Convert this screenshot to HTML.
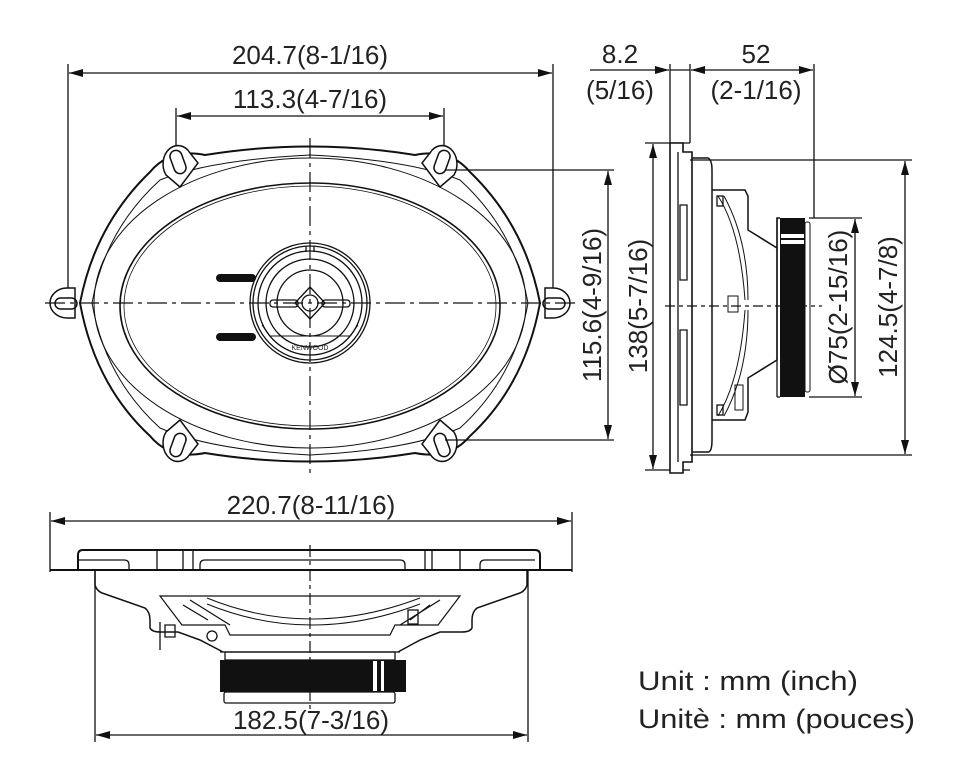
<!DOCTYPE html>
<html><head><meta charset="utf-8"><style>
html,body{margin:0;padding:0;background:#fff}
svg{display:block}
text{font-family:"Liberation Sans",sans-serif;fill:#222}
</style></head><body>
<svg width="958" height="784" viewBox="0 0 958 784" xmlns="http://www.w3.org/2000/svg">
<defs>
<marker id="a" markerWidth="14" markerHeight="8" refX="14" refY="4" orient="auto-start-reverse" markerUnits="userSpaceOnUse"><path d="M0,0 L14,4 L0,8z" fill="#111"/></marker>
</defs>
<g stroke="#111" fill="none" stroke-width="1.3">
<line x1="68" y1="64" x2="68" y2="312"/>
<line x1="553" y1="64" x2="553" y2="312"/>
<line x1="69" y1="73" x2="552" y2="73" marker-start="url(#a)" marker-end="url(#a)"/>
<line x1="176" y1="108" x2="176" y2="175"/>
<line x1="444" y1="108" x2="444" y2="175"/>
<line x1="177" y1="116" x2="443" y2="116" marker-start="url(#a)" marker-end="url(#a)"/>

<path d="M150,172 Q170,148 205,155 Q310,138 415,155 Q450,148 470,172 Q525,225 540,303 Q525,385 470,436 Q450,460 415,453 Q310,470 205,453 Q170,460 150,436 Q95,385 80,303 Q95,225 150,172Z" stroke-width="2"/>
<path d="M160,180 Q210,160 310,155 Q410,160 460,180 Q515,230 528,303 Q515,378 460,428 Q410,450 310,455 Q210,450 160,428 Q105,378 92,303 Q105,230 160,180Z" stroke-width="1"/>
<ellipse cx="310" cy="303" rx="216" ry="145" stroke-width="1"/>
<ellipse cx="310" cy="306" rx="190" ry="123" stroke-width="1.6"/>
<ellipse cx="310" cy="306" rx="186" ry="120" stroke-width="0.8"/>
<g stroke-width="1.5">
<path d="M50,303 a17,15 0 0 1 17,-15 h8 v30 h-8 a17,15 0 0 1 -17,-15z" fill="#fff"/>
<rect x="55" y="298" width="22" height="11" rx="5.5"/>
<path d="M570,303 a17,15 0 0 0 -17,-15 h-8 v30 h8 a17,15 0 0 0 17,-15z" fill="#fff"/>
<rect x="543" y="298" width="22" height="11" rx="5.5"/>
<path d="M166,175 a13,16 0 0 1 24,-22 l8,10 l-18,24z" fill="#fff"/>
<rect x="172" y="150" width="12" height="24" rx="6" transform="rotate(-20 178 162)"/>
<path d="M454,175 a13,16 0 0 0 -24,-22 l-8,10 l18,24z" fill="#fff"/>
<rect x="436" y="150" width="12" height="24" rx="6" transform="rotate(20 442 162)"/>
<path d="M166,432 a13,16 0 0 0 24,22 l8,-10 l-18,-24z" fill="#fff"/>
<rect x="172" y="433" width="12" height="24" rx="6" transform="rotate(20 178 445)"/>
<path d="M454,432 a13,16 0 0 1 -24,22 l-8,-10 l18,-24z" fill="#fff"/>
<rect x="436" y="433" width="12" height="24" rx="6" transform="rotate(-20 442 445)"/>
</g>
<circle cx="310" cy="303" r="60" fill="#fff"/>
<circle cx="310" cy="303" r="57"/>
<circle cx="310" cy="303" r="52"/>
<circle cx="310" cy="303" r="44"/>
<circle cx="310" cy="303" r="33"/>
<path d="M295,303 L310,287 L325,303 L310,319Z"/>
<circle cx="310" cy="303" r="8"/>
<rect x="270" y="300" width="28" height="7" rx="3"/>
<rect x="322" y="300" width="28" height="7" rx="3"/>
<line x1="306" y1="246" x2="306" y2="252"/><line x1="314" y1="246" x2="314" y2="252"/>
<path d="M262,325 L270,336 L350,336 L358,325" stroke-width="1"/>
</g>
<text x="310" y="350" font-size="7" text-anchor="middle">KENWOOD</text>
<g fill="#111">
<rect x="216" y="274" width="40" height="8" rx="4"/>
<rect x="216" y="333" width="40" height="8" rx="4"/>
</g>
<g stroke="#111" stroke-width="1.2" stroke-dasharray="20,5,4,5">
<line x1="45" y1="303" x2="575" y2="303"/>
<line x1="310" y1="138" x2="310" y2="475"/>
</g>
<g stroke="#111" fill="none" stroke-width="1.3">
<line x1="445" y1="170" x2="614" y2="170"/>
<line x1="445" y1="440" x2="614" y2="440"/>
<line x1="608" y1="171" x2="608" y2="439" marker-start="url(#a)" marker-end="url(#a)"/>
<line x1="645" y1="143" x2="690" y2="143"/>
<line x1="645" y1="470" x2="690" y2="470"/>
<line x1="653" y1="144" x2="653" y2="469" marker-start="url(#a)" marker-end="url(#a)"/>
<line x1="670" y1="64" x2="670" y2="143"/>
<line x1="690" y1="64" x2="690" y2="143"/>
<line x1="814" y1="64" x2="814" y2="218"/>
<line x1="590" y1="70" x2="669" y2="70" marker-end="url(#a)"/>
<line x1="670" y1="70" x2="690" y2="70"/>
<line x1="691" y1="70" x2="813" y2="70" marker-start="url(#a)" marker-end="url(#a)"/>
<path d="M670,143 H683 V152 H692 V462 H683 V473 H670Z" fill="#fff" stroke-width="1.6"/>
<line x1="678" y1="152" x2="678" y2="462"/>
<path d="M680,205 h7 v75 h-7z M680,330 h7 v75 h-7z"/>
<path d="M692,158 H708 Q712,160 712,170 V440 Q712,452 708,452 H692" stroke-width="1.5"/>
<path d="M712,190 H745 L748,196 V230 L777,248 V218 H780 M777,248 V360 L748,378 V412 L745,420 H712" stroke-width="1.5"/>
<line x1="777" y1="218" x2="777" y2="397"/>
<line x1="777" y1="397" x2="780" y2="397"/>
<path d="M718,196 Q740,230 745,300 M718,416 Q740,380 745,310" stroke-width="1"/>
<path d="M724,196 Q748,240 748,300 M724,416 Q748,372 748,310" stroke-width="1"/>
<rect x="717" y="196" width="6" height="10"/><rect x="717" y="405" width="6" height="10"/>
<path d="M735,385 h8 v25 h-8z" stroke-width="1"/>
<rect x="728" y="296" width="10" height="16" stroke-width="1"/>
<rect x="805" y="222" width="5" height="170" rx="2" stroke-width="1"/>
<line x1="809" y1="218" x2="862" y2="218"/>
<line x1="809" y1="397" x2="862" y2="397"/>
<line x1="855" y1="219" x2="855" y2="396" marker-start="url(#a)" marker-end="url(#a)"/>
<line x1="690" y1="160" x2="912" y2="160"/>
<line x1="690" y1="455" x2="912" y2="455"/>
<line x1="905" y1="161" x2="905" y2="454" marker-start="url(#a)" marker-end="url(#a)"/>
</g>
<rect x="780" y="218" width="25" height="179" fill="#111"/>
<rect x="781" y="234" width="23" height="4" fill="#fff"/>
<rect x="781" y="240" width="23" height="4" fill="#fff"/>
<g stroke="#111" stroke-width="1.2" stroke-dasharray="10,4,4,4"><line x1="665" y1="306" x2="822" y2="306"/></g>

<g stroke="#111" fill="none" stroke-width="1.3">
<line x1="50" y1="512" x2="50" y2="572"/>
<line x1="572" y1="512" x2="572" y2="572"/>
<line x1="51" y1="521" x2="571" y2="521" marker-start="url(#a)" marker-end="url(#a)"/>
<path d="M50,570 H572" stroke-width="2"/>
<path d="M78,570 V555 Q78,550 83,550 H535 Q540,550 540,555 V570" stroke-width="2"/>
<path d="M78,560 H124 Q129,560 129,565 V570 M205,560 H400 Q405,560 405,565 V570 M205,560 Q200,560 200,565 V570 M485,560 H535 M485,560 Q480,560 480,565 V570"/>
<line x1="157" y1="550" x2="157" y2="570"/><line x1="183" y1="550" x2="183" y2="570"/><line x1="193" y1="550" x2="193" y2="570"/>
<line x1="425" y1="550" x2="425" y2="570"/><line x1="432" y1="550" x2="432" y2="570"/><line x1="460" y1="550" x2="460" y2="570"/>
<path d="M95,570 V585 Q97,592 105,594 L145,608 Q150,612 150,620 V628 Q152,632 160,632 H178 L200,640 L223,652 M527,570 V585 Q525,592 517,594 L477,608 Q472,612 472,620 V628 Q470,632 462,632 H440 L420,640 L398,652" stroke-width="1.5"/>
<path d="M160,596 H460 L438,625 H395 L390,635 H230 L225,625 H182Z" stroke-width="1.2"/>
<path d="M207,598 Q310,640 420,598" stroke-width="1"/>
<path d="M207,604 Q310,646 420,604" stroke-width="1"/>
<path d="M183,605 L208,620 M190,600 L230,625 M440,600 L400,625 M430,605 L410,620"/>
<line x1="220" y1="652" x2="400" y2="652"/>
<rect x="225" y="652" width="170" height="8"/>
<rect x="224" y="692" width="171" height="11" rx="2"/>
<path d="M160,622 v28 M165,625 h10 v12 h-10z"/>
<circle cx="212" cy="636" r="5"/>
<rect x="408" y="610" width="10" height="14"/>
<line x1="95" y1="570" x2="95" y2="742"/>
<line x1="528" y1="570" x2="528" y2="742"/>
<line x1="96" y1="735" x2="527" y2="735" marker-start="url(#a)" marker-end="url(#a)"/>
</g>
<rect x="220" y="660" width="186" height="32" fill="#111"/>
<rect x="373" y="661" width="4" height="30" fill="#fff"/>
<rect x="381" y="661" width="3" height="30" fill="#fff"/>
<g stroke="#111" stroke-width="1.2" stroke-dasharray="12,4,4,4"><line x1="310" y1="545" x2="310" y2="712"/></g>

<g font-size="26">
<text x="310" y="64" text-anchor="middle">204.7(8-1/16)</text>
<text x="310" y="108" text-anchor="middle">113.3(4-7/16)</text>
<text x="620" y="63" text-anchor="middle">8.2</text>
<text x="620" y="99" text-anchor="middle">(5/16)</text>
<text x="756" y="63" text-anchor="middle">52</text>
<text x="756" y="99" text-anchor="middle">(2-1/16)</text>
<text transform="translate(601,305) rotate(-90)" text-anchor="middle">115.6(4-9/16)</text>
<text transform="translate(647,306) rotate(-90)" text-anchor="middle">138(5-7/16)</text>
<text transform="translate(847,307) rotate(-90)" text-anchor="middle">Ø75(2-15/16)</text>
<text transform="translate(897,307) rotate(-90)" text-anchor="middle">124.5(4-7/8)</text>
<text x="311" y="514" text-anchor="middle">220.7(8-11/16)</text>
<text x="311" y="729" text-anchor="middle">182.5(7-3/16)</text>
</g>
<g font-size="27">
<text x="638" y="690" textLength="220" lengthAdjust="spacingAndGlyphs">Unit : mm (inch)</text>
<text x="638" y="728" textLength="277" lengthAdjust="spacingAndGlyphs">Unitè : mm (pouces)</text>
</g>
</svg>
</body></html>
